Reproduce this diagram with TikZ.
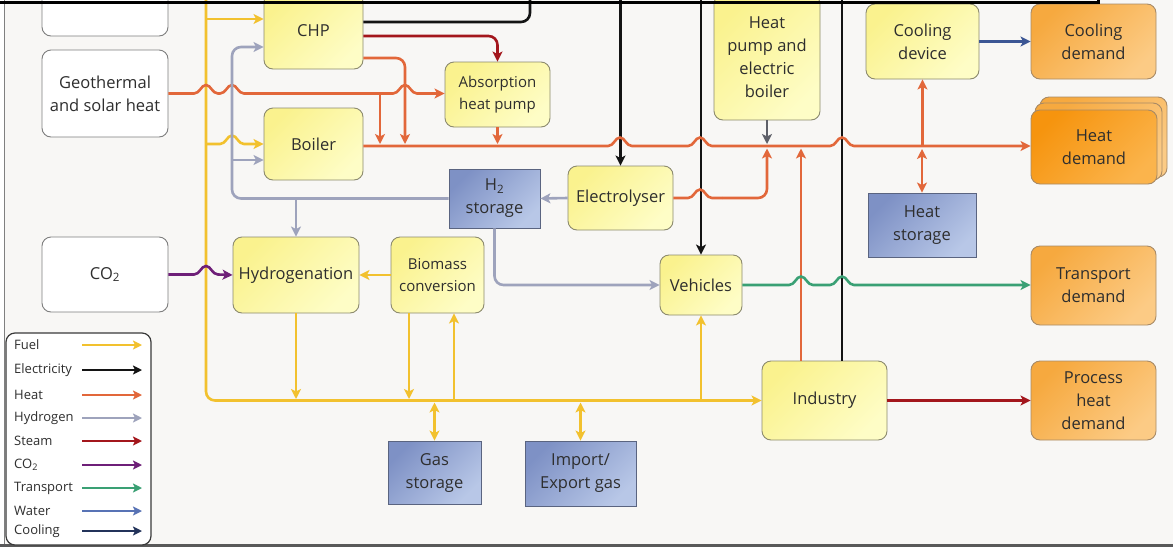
\documentclass[tikz,border=0pt]{standalone}
\usepackage{fontspec}
\setmainfont{Open Sans}
\usetikzlibrary{arrows.meta,calc}
\definecolor{bg}{HTML}{F8F7F5}
\definecolor{cFuel}{HTML}{F2C12E}
\definecolor{cElec}{HTML}{141414}
\definecolor{cHeat}{HTML}{E2673A}
\definecolor{cHyd}{HTML}{9EA3BC}
\definecolor{cHP}{HTML}{5E6068}
\definecolor{cSteam}{HTML}{A3161C}
\definecolor{cCO}{HTML}{6E1F78}
\definecolor{cTrans}{HTML}{3AA074}
\definecolor{cWater}{HTML}{5873B5}
\definecolor{cCool}{HTML}{23335A}
\definecolor{cCoolArr}{HTML}{3C5694}
\definecolor{cTxt}{HTML}{2E2E2E}
\definecolor{yel1}{HTML}{FAF28E}
\definecolor{yel2}{HTML}{FEFDC6}
\definecolor{edgeY}{HTML}{8C8A6E}
\definecolor{edgeW}{HTML}{7E7E7E}
\definecolor{org1}{HTML}{F6A93F}
\definecolor{org2}{HTML}{FCCB85}
\definecolor{orgH1}{HTML}{F6940E}
\definecolor{orgH2}{HTML}{FBB44C}
\definecolor{edgeO}{HTML}{A88A66}
\definecolor{blu1}{HTML}{7E91C5}
\definecolor{blu2}{HTML}{B8C7E7}
\definecolor{edgeB}{HTML}{5A6480}
\definecolor{legE}{HTML}{3A3A3A}
\begin{document}
\begin{tikzpicture}[x=1pt,y=-1pt,
  >={Stealth[length=10pt,width=10pt,inset=2.5pt]},
  sz/.style 2 args={minimum width=#1pt, minimum height=#2pt},
  bx/.style={rounded corners=9pt, line width=0.9pt, align=center, inner sep=1pt, text=cTxt,
             font=\fontsize{16.5}{23}\selectfont},
  proc/.style={bx, draw=edgeY, top color=yel1, bottom color=yel2, shading angle=45},
  srcb/.style={bx, draw=edgeW, fill=white},
  dem/.style={bx, draw=edgeO, top color=org1, bottom color=org2, shading angle=45},
  demH/.style={bx, draw=edgeO, top color=orgH1, bottom color=orgH2, shading angle=45},
  stor/.style={bx, rounded corners=0pt, draw=edgeB, top color=blu1, bottom color=blu2, shading angle=45},
  small/.style={font=\fontsize{15}{22}\selectfont},
  flow/.style={line width=2.6pt},
  rc/.style={rounded corners=9pt},
  fuel/.style={flow, draw=cFuel},
  elec/.style={flow, draw=cElec},
  heat/.style={flow, draw=cHeat},
  hyd/.style={flow, draw=cHyd},
  steam/.style={flow, draw=cSteam},
  co2l/.style={flow, draw=cCO},
  trans/.style={flow, draw=cTrans},
  coolf/.style={flow, draw=cCoolArr},
  hpo/.style={flow, line width=2pt, draw=cHP},
  hump/.style={insert path={.. controls +(6,0) and +(-5,0) .. ++(12,-8.5) .. controls +(5,0) and +(-6,0) .. ++(12,8.5)}},
]
\useasboundingbox (0,0) rectangle (1173,547);
\clip (0,0) rectangle (1173,547);
\fill[bg] (0,0) rectangle (1173,547);
\fill[white] (0,0) rectangle (4,547);
\draw[gray, line width=1pt] (4.5,0) -- (4.5,547);
\fill[black!65] (0,544) rectangle (1173,547);

% ---------- nodes ----------
\node[srcb, sz={126}{56}] (topbox) at (105,8) {};
\node[srcb, sz={126}{87}] (geo) at (105,93.5) {Geothermal\\and solar heat};
\node[srcb, sz={126}{75}] (co2) at (105,274.5) {CO\textsubscript{2}};
\node[proc, sz={99}{76}] (chp) at (313.5,31) {CHP};
\node[proc, sz={99}{72}] (boiler) at (313.5,144) {Boiler};
\node[proc, small, sz={105}{65}] (ahp) at (497.5,94.5) {Absorption\\heat pump};
\node[proc, sz={106}{125}] (hpeb) at (767,57.5) {Heat\\pump and\\electric\\boiler};
\node[proc, sz={113}{75}] (cooldev) at (922.5,41.5) {Cooling\\device};
\node[dem, sz={125}{75}] (cooldem) at (1093.5,41.5) {Cooling\\demand};
\node[dem, sz={127}{80}] (hdb2) at (1103.5,137) {};
\node[dem, sz={127}{77}] (hdb1) at (1098.5,141.5) {};
\node[demH, sz={126}{74}] (hdem) at (1094,147) {Heat\\demand};
\node[stor, sz={108}{64}] (heatstor) at (922,225) {Heat\\storage};
\node[stor, sz={91}{59}] (h2) at (494.5,198.5) {H\textsubscript{2}\\storage};
\node[proc, sz={105}{64}] (electro) at (620.5,198) {Electrolyser};
\node[proc, sz={126}{76}] (hydro) at (296,275) {Hydrogenation};
\node[proc, small, sz={93}{76}] (biomass) at (437.5,275) {Biomass\\conversion};
\node[proc, sz={82}{60}] (vehicles) at (701,285) {Vehicles};
\node[proc, sz={125}{79}] (industry) at (824.5,400.5) {Industry};
\node[stor, sz={93}{63}] (gasstor) at (434.5,472.5) {Gas\\storage};
\node[stor, sz={111}{65}] (impexp) at (580.5,473.5) {Import/\\Export gas};
\node[dem, sz={125}{79}] (transdem) at (1093.5,285.5) {Transport\\demand};
\node[dem, sz={125}{79}] (procdem) at (1093.5,400.5) {Process\\heat\\demand};

% ---------- helper coordinates ----------
\coordinate (top) at (0,-3);
\coordinate (bus) at (0,400.5);
\coordinate (hl) at (0,146);
\coordinate (fT) at (206,-3);
\coordinate (fA) at (206,19);
\coordinate (fB) at (206,144);
\coordinate (hC) at (232,47);
\coordinate (hB) at (232,160);
\coordinate (eT) at (530,-3);
\coordinate (gB) at (380,93.5);
\coordinate (cX) at (405,0);
\coordinate (eH) at (722,198);
\coordinate (bmL) at ([xshift=-28.5pt]biomass.south);
\coordinate (bmR) at ([xshift=16.5pt]biomass.south);
\coordinate (indE) at ([xshift=17.5pt]industry.north);
\coordinate (indH) at ([xshift=-23.5pt]industry.north);

% ---------- fuel ----------
\draw[fuel,rc,->] (fT) |- (industry.west);
\draw[fuel,->] (fA) -- (chp.west |- fA);
\draw[fuel,->] (fB) -- (220,144) [hump] -- (boiler.west |- fB);
\draw[fuel,->,shorten >=1.5pt] (hydro.south) -- (hydro.south |- bus);
\draw[fuel,->,shorten >=1.5pt] (bmL) -- (bmL |- bus);
\draw[fuel,->] (bmR |- bus) -- (bmR);
\draw[fuel,->] (biomass.west) -- (hydro.east);
\draw[fuel,->] (vehicles.south |- bus) -- (vehicles.south);
\draw[fuel,<->,shorten <=2pt] (gasstor.north |- bus) -- (gasstor.north);
\draw[fuel,<->,shorten <=2pt] (impexp.north |- bus) -- (impexp.north);

% ---------- electricity ----------
\draw[elec,rc] ([yshift=9pt]chp.east) -| (eT);
\draw[elec,->] (electro.north |- top) -- (electro.north);
\draw[elec,->] (vehicles.north |- top) -- (vehicles.north);
\draw[elec] (indE |- top) -- (indE);
\draw[hpo,->,shorten >=2pt] (hpeb.south) -- (hpeb.south |- hl);

% ---------- heat ----------
\draw[heat,->] (boiler.east |- hl) -- (608,146) [hump] -- (688,146) [hump] -- (830,146) [hump] -- (hdem.west |- hl);
\draw[heat,->] (geo.east) -- (194,93.5) [hump] -- (220,93.5) [hump] -- (393,93.5) [hump] -- (ahp.west |- geo.east);
\draw[heat,->,shorten >=2pt] (gB) -- (gB |- hl);
\draw[heat,rc,->,shorten >=2pt] ([yshift=-27pt]chp.east) -| (cX |- hl);
\draw[heat,->,shorten >=2pt] (ahp.south) -- (ahp.south |- hl);
\draw[heat] (electro.east) -- (688,198) [hump] -- (eH);
\draw[heat,rc,->,shorten >=2.5pt] (eH) -| (hpeb.south |- hl);
\draw[heat,->,shorten >=2.5pt] (indH) -- (indH |- hl);
\draw[heat,<->,shorten >=3pt] (heatstor.north) -- (heatstor.north |- hl);
\draw[heat,->] (cooldev.south |- hl) -- (cooldev.south);

% ---------- hydrogen ----------
\draw[hyd,rc,->] (h2.west) -| (hC) -- (chp.west |- hC);
\draw[hyd,->] (hB) -- (boiler.west |- hB);
\draw[hyd,->] (hydro.north |- h2.west) -- (hydro.north);
\draw[hyd,->] (electro.west) -- (h2.east);
\draw[hyd,rc,->] (h2.south) |- (vehicles.west);

% ---------- steam, CO2, transport, cooling ----------
\draw[steam,rc,->] ([yshift=-5pt]chp.east) -| (ahp.north);
\draw[steam,->] (industry.east) -- (procdem.west);
\draw[co2l,->] (co2.east) -- (194,274.5) [hump] -- (hydro.west);
\draw[trans,->] (vehicles.east) -- (789,285) [hump] -- (830,285) [hump] -- (transdem.west |- vehicles.east);
\draw[coolf,->] (cooldev.east) -- (cooldem.west);

% ---------- frame line at top ----------
\draw[line width=3pt, black] (-2,2) -- (1098,2) -- (1098,-3);

% ---------- legend ----------
\node[draw=legE, line width=1.2pt, rounded corners=9pt, fill=white, minimum width=145pt, minimum height=212pt] (legend) at (78.5,439) {};
\foreach \i/\lab/\col/\yy in {1/Fuel/cFuel/345, 2/Electricity/cElec/370, 3/Heat/cHeat/395, 4/Hydrogen/cHyd/418, 5/Steam/cSteam/441, 6/{CO\textsubscript{2}}/cCO/465, 7/Transport/cTrans/488, 8/Water/cWater/511, 9/Cooling/cCool/531}{
  \node[anchor=west, font=\fontsize{13}{15}\selectfont, text=cTxt, inner sep=0pt] (lt\i) at (14,\yy) {\lab};
  \coordinate (la\i) at (82,\yy);
  \coordinate (lb\i) at (142,\yy);
  \draw[line width=2.2pt, draw=\col, -{Stealth[length=9pt,width=9pt,inset=2pt]}] (la\i) -- (lb\i);
}
\end{tikzpicture}
\end{document}
